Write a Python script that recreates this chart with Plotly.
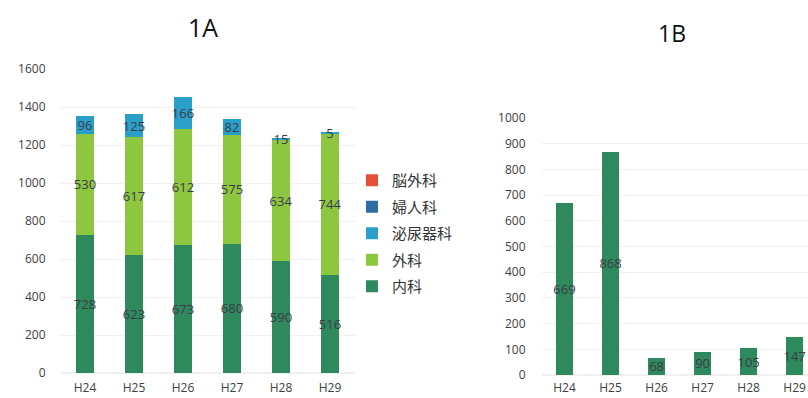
import plotly.graph_objects as go

# Fiscal years (Heisei)
years = ["H24", "H25", "H26", "H27", "H28", "H29"]

# 1A: cases by department (stacked)
naika = [728, 623, 673, 680, 590, 516]       # 内科
geka = [530, 617, 612, 575, 634, 744]        # 外科
hinyouki = [96, 125, 166, 82, 15, 5]         # 泌尿器科
fujinka = [0, 0, 0, 0, 0, 0]                 # 婦人科
nougeka = [0, 0, 0, 0, 0, 0]                 # 脳外科

# 1B: single series
values_1b = [669, 868, 68, 90, 105, 147]

W, H = 808, 398
NUM_FONT = "Open Sans, Noto Sans, sans-serif"
CJK_FONT = "Noto Sans CJK JP, Noto Sans, sans-serif"
LABEL_COLOR = "#3b3b48"

# stacking order bottom -> top; legend lists them top -> bottom
series_1a = [
    ("内科", naika, "#2e8a5c"),
    ("外科", geka, "#8dc63f"),
    ("泌尿器科", hinyouki, "#2aa0c9"),
    ("婦人科", fujinka, "#2e6da4"),
    ("脳外科", nougeka, "#e4503a"),
]

fig = go.Figure()

for i, (name, vals, color) in enumerate(series_1a):
    fig.add_trace(go.Bar(
        x=years, y=vals, name=name,
        marker=dict(color=color, line=dict(width=0)),
        text=[str(v) if v else "" for v in vals],
        textposition="inside", insidetextanchor="middle",
        constraintext="none", textangle=0,
        textfont=dict(family=NUM_FONT, size=13, color=LABEL_COLOR),
        xaxis="x", yaxis="y", legendgroup=name,
        legendrank=1000 - i,
    ))

fig.add_trace(go.Bar(
    x=years, y=values_1b, name="1B",
    marker=dict(color="#2e8a5c", line=dict(width=0)),
    text=[str(v) for v in values_1b],
    textposition="inside", insidetextanchor="middle",
    constraintext="none", textangle=0,
    textfont=dict(family=NUM_FONT, size=13, color=LABEL_COLOR),
    xaxis="x2", yaxis="y2", showlegend=False,
))

def px_x(p):
    return p / W

def px_y(p):
    return (H - p) / H

grid = "#f0f0f0"
tick_font = dict(family=NUM_FONT, size=12, color="#404040")
common = dict(automargin=False, showline=False, ticks="", tickfont=tick_font)

fig.update_layout(
    width=W, height=H,
    margin=dict(l=0, r=0, t=0, b=0, autoexpand=False),
    paper_bgcolor="white", plot_bgcolor="white",
    barmode="stack", bargap=0.62,
    xaxis=dict(domain=[px_x(60.5), px_x(354.5)], anchor="y",
               range=[-0.5, 5.5], showgrid=False, zeroline=False,
               ticklabelstandoff=6, **common),
    yaxis=dict(domain=[px_y(373), px_y(69)], anchor="x",
               range=[0, 1600], dtick=200, showgrid=True, gridcolor=grid,
               zeroline=True, zerolinecolor=grid,
               ticklabelstandoff=14, **common),
    xaxis2=dict(domain=[px_x(541.5), 1.0], anchor="y2",
                range=[-0.5, 5.29], showgrid=False, zeroline=False,
                ticklabelstandoff=4, **common),
    yaxis2=dict(domain=[px_y(375), px_y(118)], anchor="x2",
                range=[0, 1000], dtick=100, showgrid=True, gridcolor=grid,
                zeroline=True, zerolinecolor=grid,
                ticklabelstandoff=15, **common),
    legend=dict(x=px_x(352), y=px_y(164), xanchor="left", yanchor="top",
                traceorder="grouped", tracegroupgap=4,
                font=dict(family=CJK_FONT, size=15, color="#333333"),
                bgcolor="rgba(0,0,0,0)"),
    annotations=[
        dict(text="1A", x=px_x(203), y=px_y(27), xref="paper", yref="paper",
             showarrow=False, xanchor="center", yanchor="middle",
             font=dict(family=NUM_FONT, size=25, color="#111111")),
        dict(text="1B", x=px_x(672), y=px_y(33), xref="paper", yref="paper",
             showarrow=False, xanchor="center", yanchor="middle",
             font=dict(family=NUM_FONT, size=23, color="#111111")),
    ],
    showlegend=True,
)

fig.write_html("out.html")
